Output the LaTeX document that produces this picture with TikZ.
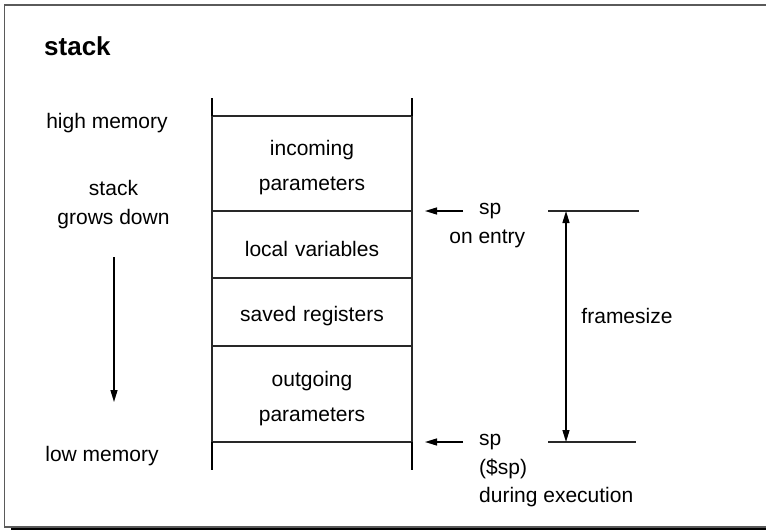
\documentclass[tikz,border=0pt]{standalone}
\usepackage{fontspec}
\setmainfont{Liberation Sans}
\usepackage{xcolor}
\usepackage{tikz}
\usetikzlibrary{arrows.meta, positioning, calc}
\definecolor{framegray}{RGB}{90,90,90}
\definecolor{linegray}{RGB}{40,40,40}
\tikzset{
  cell/.style={rectangle, draw=linegray, line width=1.3pt, outer sep=0pt,
    minimum width=200pt, text width=190pt, align=center,
    font=\fontsize{21}{35}\selectfont,
    execute at begin node={\rule{0pt}{24pt}}},
  lbl/.style={inner sep=2pt, font=\fontsize{21}{29}\selectfont},
  ttl/.style={inner sep=2pt, font=\fontsize{26}{30}\selectfont\bfseries},
  rail/.style={line width=1.3pt, black},
  ext/.style={line width=1.3pt, linegray},
  ptr/.style={-{Triangle[length=12pt,width=7pt]}, line width=1.3pt},
  dim/.style={{Triangle[length=12pt,width=7pt]}-{Triangle[length=12pt,width=7pt]}, line width=1.3pt}
}

\begin{document}
\begin{tikzpicture}[x=1pt, y=-1pt, node distance=0pt]
  \useasboundingbox (0,0) rectangle (766,530);
  % frame with shadow along the bottom
  \draw[framegray, line width=1.3pt] (770,5) -- (4.5,5) -- (4.5,527) -- (770,527);
  \fill[black] (11,527.5) rectangle (770,531);
  \node[ttl, anchor=base west] (title) at (42,55) {stack};
  % the stack frame
  \node[cell, minimum height=95pt, anchor=north] (inc) at (312,116) {incoming\\parameters};
  \node[cell, minimum height=67pt, below=of inc] (loc) {local variables};
  \node[cell, minimum height=68pt, below=of loc] (sav) {saved registers};
  \node[cell, minimum height=96pt, below=of sav] (out) {outgoing\\parameters};
  \coordinate (railtl) at (212,98);
  \coordinate (railtr) at (412,98);
  \coordinate (railbl) at (212,470);
  \coordinate (railbr) at (412,470);
  \draw[rail] (railtl) -- (inc.north west);
  \draw[rail] (railtr) -- (inc.north east);
  \draw[rail] (out.south west) -- (railbl);
  \draw[rail] (out.south east) -- (railbr);
  % memory direction
  \node[lbl, anchor=base] (high) at (107,128) {high memory};
  \node[lbl, align=center] (grow) at (113.5,205) {stack\\grows down};
  \node[lbl, anchor=base] (low) at (102,461) {low memory};
  \coordinate (growtop) at (114,257);
  \coordinate (growbot) at (114,402);
  \draw[ptr] (growtop) -- (growbot);
  % stack pointers
  \node[lbl, right=65pt of loc.north east, anchor=west] (spin) {sp};
  \node[lbl, anchor=base] (entry) at ([xshift=-3pt, yshift=-29pt]spin.base) {on entry};
  \node[lbl, right=65pt of out.south east, anchor=west] (spexe) {sp};
  \node[lbl, anchor=base west] (spreg) at ([yshift=-29pt]spexe.base west) {(\$sp)};
  \node[lbl, anchor=base west] (during) at ([yshift=-57pt]spexe.base west) {during execution};
  \draw[ptr, shorten <=14pt, shorten >=13pt] (spin.west) -- (loc.north east);
  \draw[ptr, shorten <=14pt, shorten >=13pt] (spexe.west) -- (out.south east);
  % frame size
  \coordinate (ftopl) at (548,211);
  \coordinate (ftopr) at (639,211);
  \coordinate (fbotl) at (548,442);
  \coordinate (fbotr) at (636,442);
  \coordinate (fdimt) at (566,211);
  \coordinate (fdimb) at (566,442);
  \draw[ext] (ftopl) -- (ftopr);
  \draw[ext] (fbotl) -- (fbotr);
  \draw[dim] (fdimt) -- (fdimb);
  \node[lbl, anchor=base] (fsize) at (627,323) {framesize};
\end{tikzpicture}
\end{document}
